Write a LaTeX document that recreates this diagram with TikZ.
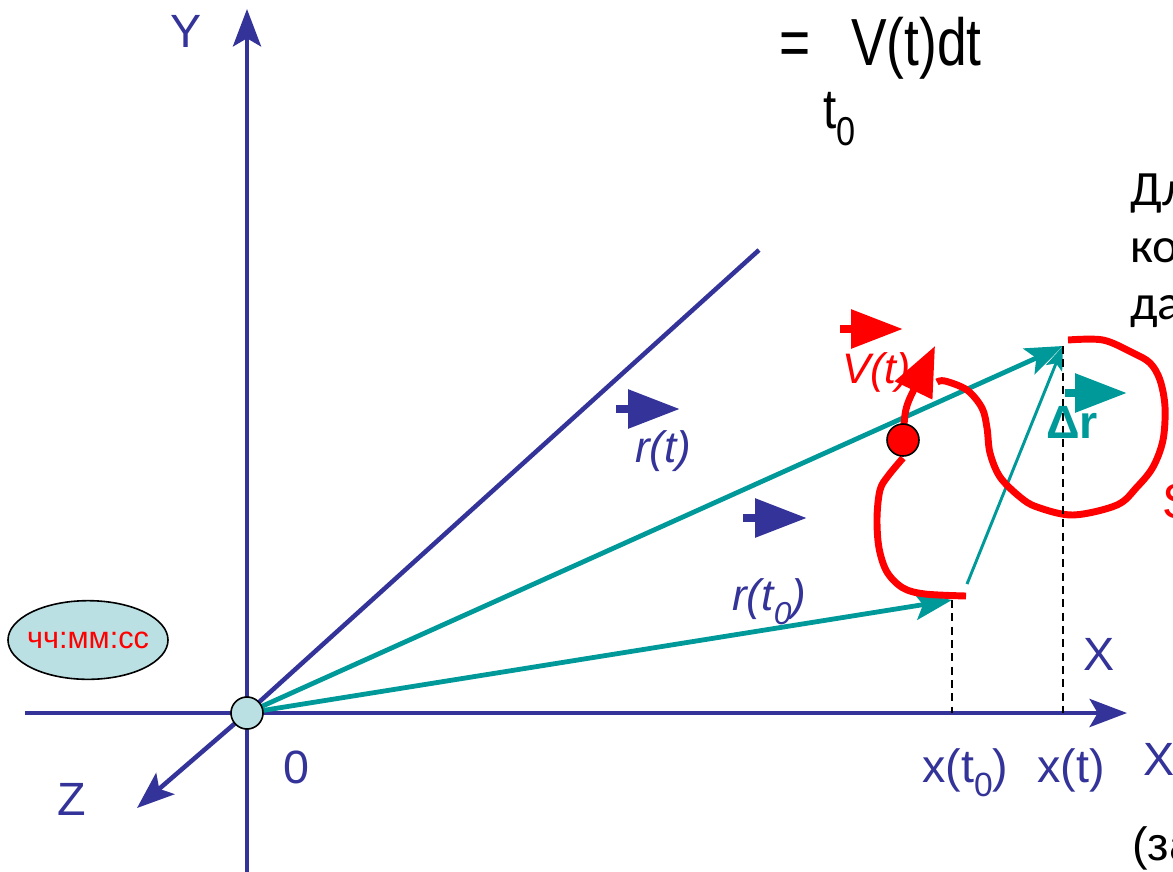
\documentclass[tikz,border=0pt]{standalone}
\usepackage{fontspec}
\setmainfont{Liberation Sans}
\newfontfamily\cyrfont{Carlito}
\usetikzlibrary{arrows.meta,shapes.geometric}
\definecolor{figN}{RGB}{51,51,153}
\definecolor{figT}{RGB}{0,153,153}
\definecolor{figR}{RGB}{255,0,0}
\definecolor{figC}{RGB}{187,224,227}
\newcommand{\lowsub}[1]{\raisebox{-0.32em}{\scalebox{0.72}{#1}}}

\begin{document}
\begin{tikzpicture}[x={(0.75pt,0pt)},y={(0pt,-0.75pt)},
  ax/.style={figN,line width=3.4pt,-{Stealth[length=28pt,width=21pt,inset=6pt]}},
  rad/.style={figT,line width=3.6pt,-{Stealth[length=28pt,width=21pt,inset=6pt]}},
  vmark/.style={line width=6pt,-{Triangle[length=39pt,width=28pt]}},
  lbl/.style={inner sep=0pt,anchor=base west},
  big/.style={font=\fontsize{35}{42}\selectfont},
  cyr/.style={font=\fontsize{37}{44}\selectfont\cyrfont},
  curve/.style={figR,line width=5.2pt}]
\useasboundingbox (0,0) rectangle (1173,871);
\clip (0,0) rectangle (1173,871);
\coordinate (O) at (247,713);
\coordinate (xl) at (25,713);
\coordinate (xr) at (1127,713);
\coordinate (yb) at (247,875);
\coordinate (yt) at (247,9);
\coordinate (zt) at (137,808);
\coordinate (dg) at (759,250);
\coordinate (P0) at (952,600);
\coordinate (P1) at (1063,346);
\coordinate (Q) at (967,584);
\coordinate (tipV) at (935,346);
% axes
\draw[ax] (xl) -- (xr);
\draw[ax] (yb) -- (yt);
\draw[ax] (O) -- (zt);
\draw[figN,line width=3.4pt] (O) -- (dg);
% radius vectors
\draw[rad] (O) -- (P0);
\draw[rad] (O) -- (P1);
\draw[figT,line width=2.2pt,-{Stealth[length=18pt,width=13pt,inset=4pt]}] (Q) -- (P1);
% trajectory
\draw[curve] plot[smooth,tension=0.55] coordinates {(966,596) (925,594) (903,588) (887,572) (879,548) (877,518) (880,490) (888,476) (903,458)};
\draw[curve] plot[smooth,tension=0.55] coordinates {(937,382) (945,381) (967,390) (982,408) (987,428) (990,453) (1000,477) (1020,497) (1037,507) (1073,515) (1117,505) (1137,487) (1153,467) (1163,440) (1165,407) (1160,380) (1150,363) (1133,353) (1103,340) (1068,340)};
\draw[figR,line width=5.2pt,-{Triangle[length=37pt,width=30pt]}] (903,440) .. controls (905,408) .. (tipV);
\node[circle,draw,fill=figR,minimum size=24pt,inner sep=0pt,line width=1.2pt] (pt) at (903,440) {};
% projections
\draw[black,line width=1.8pt,dash pattern=on 6pt off 4pt] (P0) -- (P0 |- O);
\draw[black,line width=1.8pt,dash pattern=on 6pt off 4pt] (P1) -- (P1 |- O);
\node[circle,draw,fill=figC,minimum size=24pt,inner sep=0pt,line width=1.2pt] (orig) at (O) {};
\node[ellipse,draw,fill=figC,minimum width=120pt,minimum height=59pt,inner xsep=-8pt,inner ysep=0pt,line width=1.2pt] (clock) at (88,640) {\fontsize{23}{27}\selectfont\color{figR}чч:мм:сс};
% vector marks
\draw[vmark,figN] (616,409) -- (680,409);
\draw[vmark,figN] (743,518) -- (807,518);
\draw[vmark,figR] (840,329) -- (903,329);
\draw[vmark,figT] (1065,393) -- (1127,393);
% labels
\node[lbl,big,figN,anchor=base] (ylbl) at (186,47) {Y};
\node[lbl,big,figN] (zero) at (283,783) {0};
\node[lbl,big,figN,anchor=base] (zlbl) at (72,815) {Z};
\node[lbl,big,figN] (xlbl) at (1083,670) {X};
\node[lbl,big,figN] (xlbl2) at (1143,775) {X};
\node[lbl,big,figN] (xt0) at (922,782) {x(t\lowsub{0})};
\node[lbl,big,figN] (xt) at (1037,782) {x(t)};
\node[lbl,figN,font=\fontsize{33}{40}\selectfont\itshape] (rt) at (635,462) {r(t)};
\node[lbl,figN,font=\fontsize{33}{40}\selectfont\itshape] (rt0) at (732,610) {r(t\lowsub{0})};
\node[lbl,figR,font=\fontsize{32}{38}\selectfont\itshape] (vt) at (842,383) {V(t)};
\node[lbl,figT,font=\fontsize{35}{42}\selectfont\bfseries] (dr) at (1046,438) {Δr};
\node[lbl,font=\fontsize{50}{60}\selectfont] (eq) at (779,65) {\scalebox{0.8}[1]{=}};
\node[lbl,font=\fontsize{50}{60}\selectfont] (vdt) at (851,65) {\scalebox{0.8}[1]{V(t)dt}};
\node[lbl,font=\fontsize{42}{50}\selectfont] (t0) at (823,128) {\scalebox{0.85}[1]{t\lowsub{0}}};
\node[lbl,cyr] (c1) at (1130,205) {Дл};
\node[lbl,cyr] (c2) at (1130,262) {ко};
\node[lbl,cyr] (c3) at (1130,319) {да};
\node[lbl,figR,font=\fontsize{37}{44}\selectfont] (slbl) at (1162,518) {S};
\node[lbl,big] (za) at (1132,860) {(за};
\end{tikzpicture}
\end{document}
